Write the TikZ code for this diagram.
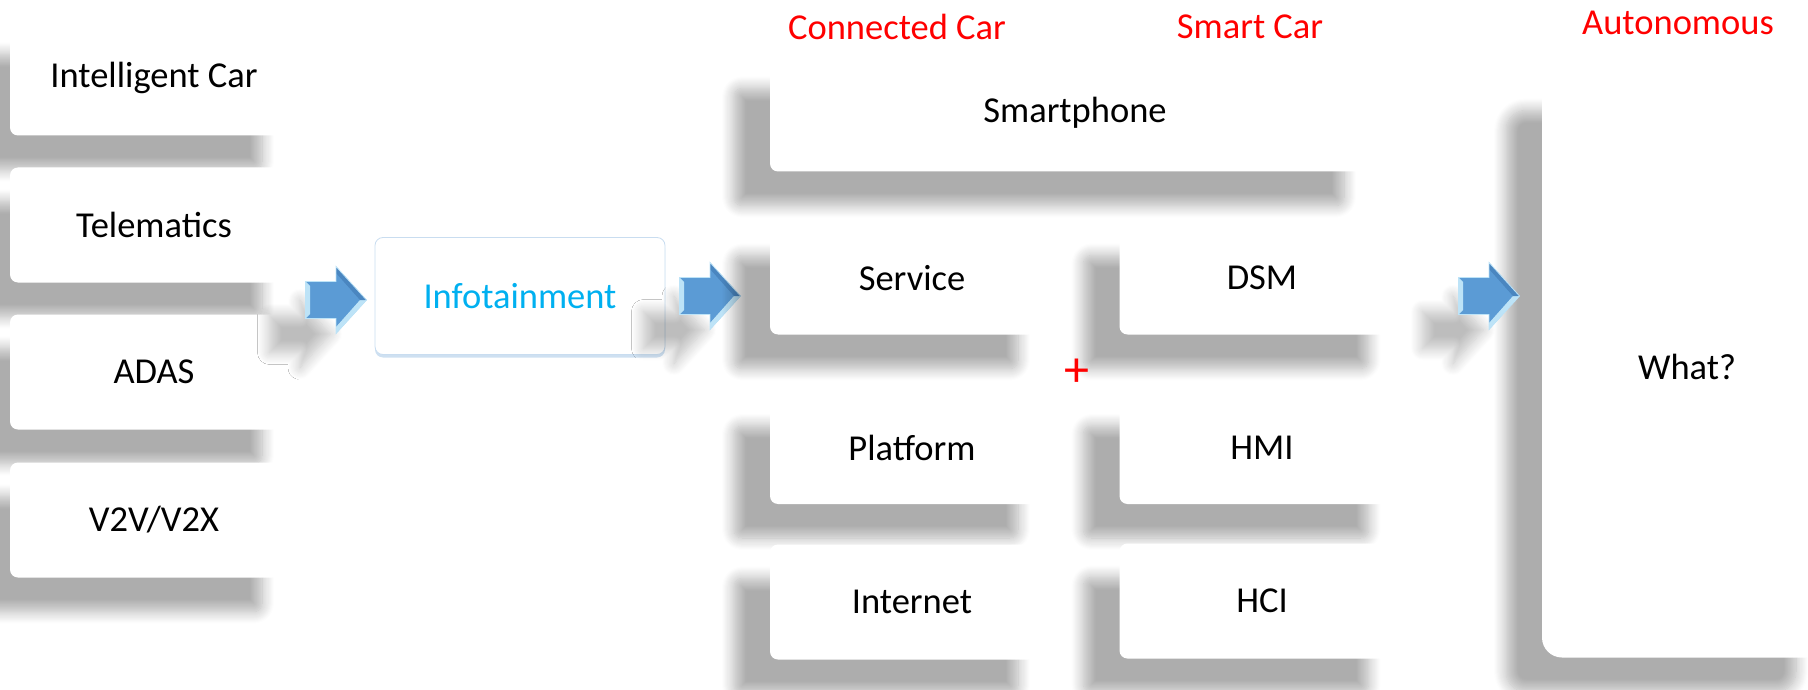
\documentclass[tikz,border=0pt]{standalone}
\usepackage{fontspec}
\setmainfont{Carlito}
\usetikzlibrary{shadows,shadows.blur}
\definecolor{arrowblue}{HTML}{5B9BD5}
\definecolor{arrowrim}{HTML}{BDE3F7}
\definecolor{arrowdark}{HTML}{4A86C0}
\definecolor{infocyan}{HTML}{00B0F0}
\definecolor{infoedge}{HTML}{C9DDF0}
\newcommand\boxfont{\fontsize{36.5}{44}\selectfont}

\tikzset{
  softshadow/.style={blur shadow={shadow xshift=-36pt, shadow yshift=-34pt,
      shadow blur radius=12pt, shadow blur steps=12, shadow opacity=#1}},
  softshadow/.default=32,
  card/.style={fill=white, rounded corners=8pt, inner sep=0pt,
    minimum width=288pt, minimum height=115pt, font=\boxfont, softshadow},
  infobox/.style={fill=white, draw=infoedge, line width=0.8pt, rounded corners=8pt,
    inner sep=0pt, minimum width=290pt, minimum height=117pt,
    font=\boxfont, text=infocyan,
    drop shadow={shadow xshift=0pt, shadow yshift=-3pt, fill=infoedge, opacity=.9}},
  tag/.style={text=red, font=\boxfont, inner sep=0pt},
  bluearrow/.pic={
    \path[softshadow=26, fill=arrowblue] (-30.5,-18.5) -- (0,-18.5) -- (0,-33.5)
      -- (30.5,0) -- (0,33.5) -- (0,18.5) -- (-30.5,18.5) -- cycle;
    \fill[arrowrim] (-30.5,-18.5) -- (-26,-14) -- (-26,14) -- (-30.5,18.5) -- cycle;
    \fill[arrowrim] (30.5,0) -- (0,33.5) -- (0,27) -- (24,0) -- cycle;
    \fill[arrowdark] (30.5,0) -- (0,-33.5) -- (0,-27) -- (24,0) -- cycle;
    \draw[arrowrim, line width=0.8pt] (-30.5,-18.5) -- (0,-18.5) -- (0,-33.5)
      -- (30.5,0) -- (0,33.5) -- (0,18.5) -- (-30.5,18.5) -- cycle;
  }
}

\begin{document}
\begin{tikzpicture}[x=1pt,y=-1pt]
  \useasboundingbox (0,0) rectangle (1808,690);
  \node[card] (intel) at (154,78) {Intelligent Car};
  \node[card] (tele) at (154,225) {Telematics};
  \node[card] (adas) at (154,372) {ADAS};
  \node[card] (vtov) at (154,520) {V2V/V2X};
  \pic (arrA) at (336,300) {bluearrow};
  \node[infobox] (info) at (520,296) {Infotainment};
  \pic (arrB) at (710,296) {bluearrow};

  \node[card, minimum width=610pt, minimum height=117pt] (phone) at (1075,113) {Smartphone};
  \node[card, minimum width=284pt, minimum height=113pt] (serv) at (912,278) {Service};
  \node[card, minimum width=285pt, minimum height=113pt] (dsm) at (1262,278) {DSM};
  \node[card, minimum width=284pt, minimum height=112pt] (plat) at (912,448) {Platform};
  \node[card, minimum width=285pt, minimum height=112pt] (hmi) at (1262,448) {HMI};
  \node[card, minimum width=284pt, minimum height=115pt] (inet) at (912,602) {Internet};
  \node[card, minimum width=285pt, minimum height=115pt] (hci) at (1262,601) {HCI};
  \node[text=red, inner sep=0pt, font=\fontsize{50}{60}\selectfont] (plus) at (1077,373) {+};

  \node[card, minimum width=290pt, minimum height=581pt, rounded corners=20pt] (what) at (1687,367) {What?};
  \pic (arrC) at (1489,296) {bluearrow};

  \node[tag] (conn) at (897,27) {Connected Car};
  \node[tag] (smart) at (1250,27) {Smart Car};
  \node[tag] (auto) at (1678,23) {Autonomous};
\end{tikzpicture}
\end{document}
